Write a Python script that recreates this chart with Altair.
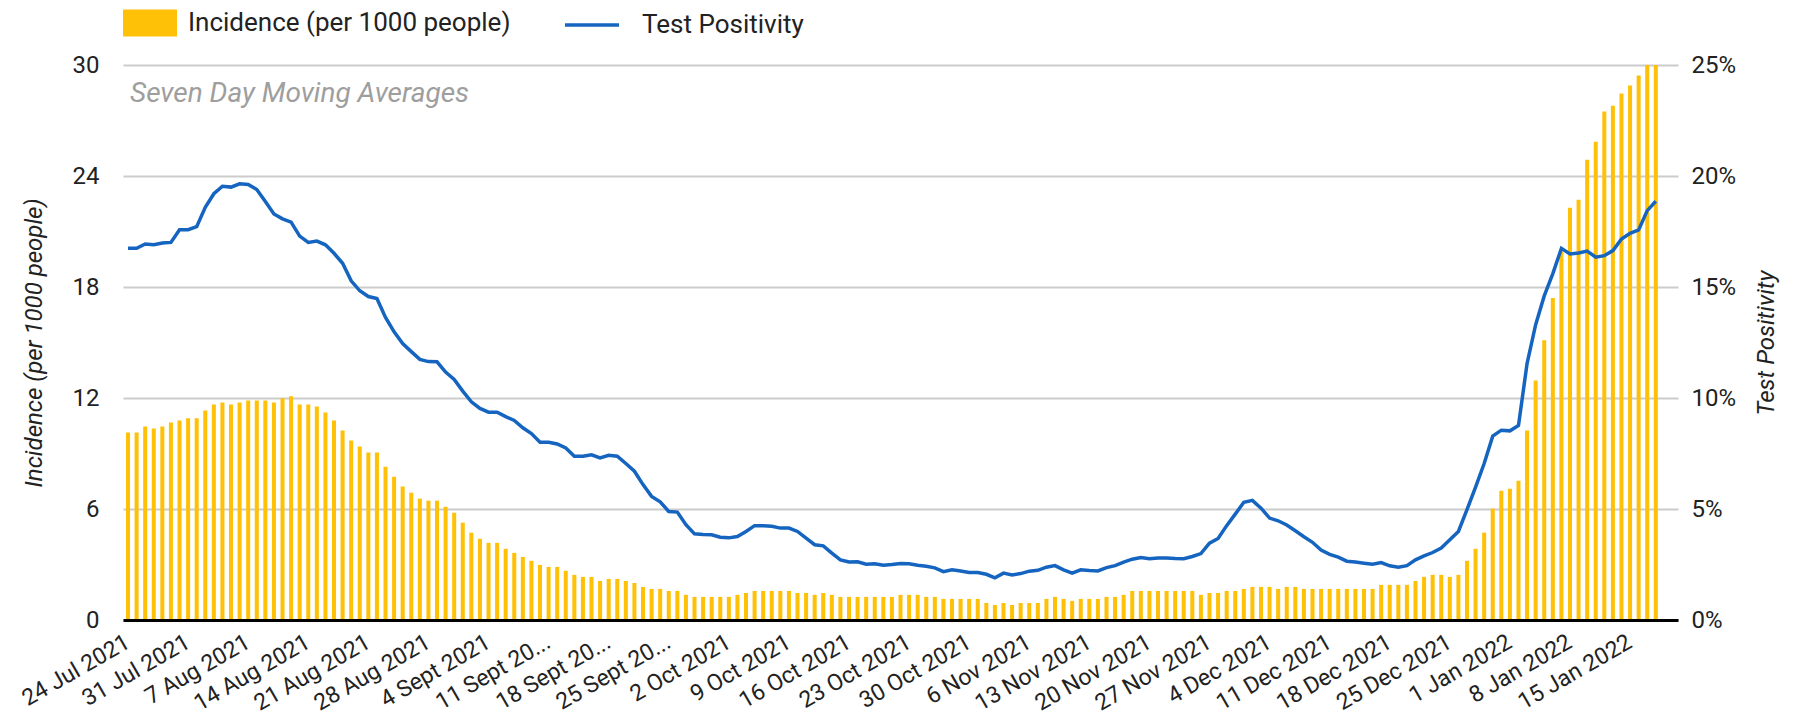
import json
import altair as alt
import pandas as pd

# ---------------- data ----------------
start_date = "24 Jul 2021"
n_days = 181  # 24 Jul 2021 .. 20 Jan 2022 (last two without data)

incidence = [
    10.13, 10.13, 10.46, 10.35, 10.46, 10.68, 10.79, 10.9, 10.9, 11.33,
    11.65, 11.76, 11.65, 11.76, 11.87, 11.87, 11.87, 11.76, 11.98, 12.09,
    11.65, 11.65, 11.54, 11.22, 10.79, 10.24, 9.7, 9.38, 9.05, 9.05,
    8.29, 7.75, 7.21, 6.88, 6.56, 6.45, 6.45, 6.12, 5.8, 5.26,
    4.72, 4.39, 4.17, 4.17, 3.85, 3.63, 3.41, 3.2, 2.98, 2.87,
    2.87, 2.66, 2.44, 2.33, 2.33, 2.11, 2.22, 2.22, 2.11, 2.0,
    1.79, 1.68, 1.68, 1.57, 1.57, 1.36, 1.25, 1.25, 1.25, 1.25,
    1.25, 1.36, 1.46, 1.57, 1.57, 1.57, 1.57, 1.57, 1.46, 1.46,
    1.36, 1.46, 1.36, 1.25, 1.25, 1.25, 1.25, 1.25, 1.25, 1.25,
    1.36, 1.36, 1.36, 1.25, 1.25, 1.14, 1.14, 1.14, 1.14, 1.14,
    0.92, 0.81, 0.92, 0.81, 0.92, 0.92, 0.92, 1.14, 1.25, 1.14,
    1.03, 1.14, 1.14, 1.14, 1.25, 1.25, 1.36, 1.57, 1.57, 1.57,
    1.57, 1.57, 1.57, 1.57, 1.57, 1.36, 1.46, 1.46, 1.57, 1.57,
    1.68, 1.79, 1.79, 1.79, 1.68, 1.79, 1.79, 1.68, 1.68, 1.68,
    1.68, 1.68, 1.68, 1.68, 1.68, 1.68, 1.9, 1.9, 1.9, 1.9,
    2.11, 2.33, 2.44, 2.44, 2.33, 2.44, 3.2, 3.85, 4.72, 6.02,
    6.99, 7.1, 7.53, 10.24, 12.95, 15.12, 17.4, 19.9, 22.28, 22.71,
    24.88, 25.85, 27.48, 27.8, 28.46, 28.89, 29.43, 30.3, 30.3,
]

positivity = [
    16.74, 16.74, 16.94, 16.9, 16.98, 17.01, 17.58, 17.58, 17.72, 18.59,
    19.2, 19.54, 19.5, 19.65, 19.62, 19.39, 18.85, 18.29, 18.07, 17.92,
    17.29, 17.01, 17.07, 16.9, 16.52, 16.07, 15.28, 14.83, 14.57, 14.48,
    13.63, 12.98, 12.45, 12.09, 11.74, 11.64, 11.63, 11.17, 10.84, 10.31,
    9.83, 9.53, 9.36, 9.36, 9.16, 8.99, 8.66, 8.4, 8.01, 8.01,
    7.93, 7.75, 7.38, 7.38, 7.44, 7.3, 7.42, 7.38, 7.05, 6.7,
    6.1, 5.57, 5.32, 4.89, 4.86, 4.29, 3.88, 3.85, 3.84, 3.73,
    3.7, 3.76, 3.99, 4.25, 4.25, 4.22, 4.14, 4.14, 3.99, 3.69,
    3.39, 3.34, 3.01, 2.71, 2.61, 2.62, 2.51, 2.53, 2.47, 2.5,
    2.54, 2.53, 2.47, 2.42, 2.35, 2.18, 2.26, 2.21, 2.14, 2.14,
    2.06, 1.9, 2.11, 2.03, 2.09, 2.2, 2.24, 2.38, 2.45, 2.26,
    2.11, 2.26, 2.23, 2.21, 2.36, 2.45, 2.61, 2.74, 2.81, 2.76,
    2.79, 2.79, 2.77, 2.76, 2.86, 2.99, 3.46, 3.67, 4.25, 4.77,
    5.3, 5.39, 5.04, 4.59, 4.47, 4.28, 4.02, 3.75, 3.5, 3.15,
    2.96, 2.83, 2.65, 2.61, 2.56, 2.51, 2.59, 2.44, 2.38, 2.45,
    2.71, 2.89, 3.04, 3.24, 3.61, 3.99, 4.97, 5.99, 7.05, 8.28,
    8.55, 8.52, 8.76, 11.55, 13.3, 14.6, 15.6, 16.74, 16.49, 16.53,
    16.62, 16.34, 16.41, 16.64, 17.16, 17.42, 17.57, 18.44, 18.86,
]

tick_labels = [
    "24 Jul 2021", "31 Jul 2021", "7 Aug 2021", "14 Aug 2021", "21 Aug 2021",
    "28 Aug 2021", "4 Sept 2021", "11 Sept 20...", "18 Sept 20...", "25 Sept 20...",
    "2 Oct 2021", "9 Oct 2021", "16 Oct 2021", "23 Oct 2021", "30 Oct 2021",
    "6 Nov 2021", "13 Nov 2021", "20 Nov 2021", "27 Nov 2021", "4 Dec 2021",
    "11 Dec 2021", "18 Dec 2021", "25 Dec 2021", "1 Jan 2022", "8 Jan 2022",
    "15 Jan 2022",
]

left_ticks = [0, 6, 12, 18, 24, 30]
right_ticks = [0, 5, 10, 15, 20, 25]

series_bar = "Incidence (per 1000 people)"
series_line = "Test Positivity"
note_text = "Seven Day Moving Averages"

# ---------------- table ----------------
idx = list(range(n_days))
df = pd.DataFrame({
    "idx": idx,
    "incidence": incidence + [None] * (n_days - len(incidence)),
    "positivity": positivity + [None] * (n_days - len(positivity)),
    "s_bar": [series_bar] * n_days,
    "s_line": [series_line] * n_days,
})

FONT = "Roboto"
TEXT = "#222222"
W, H = 1555, 555

x_scale = alt.Scale(domain=idx, paddingInner=0.53, paddingOuter=0.35)
x_axis = alt.Axis(
    values=list(range(0, 7 * len(tick_labels), 7)),
    labelExpr=json.dumps(tick_labels) + "[floor(datum.value / 7)]",
    labelAngle=330, labelAlign="right", labelBaseline="middle",
    labelPadding=20, labelFontSize=23, labelFont=FONT, labelColor=TEXT,
    labelOverlap=False, labelBound=False, labelFlush=False, labelLimit=400,
    ticks=False, grid=False, domain=True, domainColor="#000000", domainWidth=3,
    title=None, zindex=1,
)

bars = alt.Chart(df).mark_bar(clip=True).encode(
    x=alt.X("idx:O", scale=x_scale, axis=x_axis),
    y=alt.Y(
        "incidence:Q",
        scale=alt.Scale(domain=[0, 30], nice=False, zero=True),
        axis=alt.Axis(
            values=left_ticks, title=series_bar,
            titleFont=FONT, titleFontSize=24, titleFontStyle="italic",
            titleFontWeight="normal", titleColor=TEXT,
            titleX=-89, titleY=H / 2, titleAngle=270,
            titleAlign="center", titleBaseline="middle",
            labelFont=FONT, labelFontSize=24, labelColor=TEXT, labelPadding=24,
            ticks=False, domain=False, grid=True,
            gridColor="#cccccc", gridWidth=2,
        ),
    ),
    fill=alt.Fill(
        "s_bar:N",
        scale=alt.Scale(domain=[series_bar], range=["#FFC107"]),
        legend=alt.Legend(
            title=None, orient="none", legendX=0, legendY=-69,
            symbolType="M-1,-0.5H1V0.5H-1Z", symbolSize=2916,
            symbolStrokeWidth=0, symbolOpacity=1,
            labelFont=FONT, labelFontSize=26, labelColor=TEXT, labelOffset=11,
            labelLimit=600,
        ),
    ),
)

line = alt.Chart(df).mark_line(strokeWidth=3.5).encode(
    x=alt.X("idx:O", scale=x_scale, axis=x_axis),
    y=alt.Y(
        "positivity:Q",
        scale=alt.Scale(domain=[0, 25], nice=False, zero=True),
        axis=alt.Axis(
            orient="right", values=right_ticks,
            labelExpr="datum.value + '%'", title=series_line,
            titleFont=FONT, titleFontSize=24, titleFontStyle="italic",
            titleFontWeight="normal", titleColor=TEXT,
            titleX=88, titleY=H / 2, titleAngle=270,
            titleAlign="center", titleBaseline="middle",
            labelFont=FONT, labelFontSize=24, labelColor=TEXT, labelPadding=13,
            ticks=False, domain=False, grid=False,
        ),
    ),
    stroke=alt.Stroke(
        "s_line:N",
        scale=alt.Scale(domain=[series_line], range=["#1565C0"]),
        legend=alt.Legend(
            title=None, orient="none", legendX=440, legendY=-69,
            symbolType="stroke", symbolSize=2916, symbolStrokeWidth=3.5,
            labelFont=FONT, labelFontSize=26, labelColor=TEXT, labelOffset=21,
            labelLimit=600,
        ),
    ),
)

note = alt.Chart(pd.DataFrame({"t": [note_text]})).mark_text(
    align="left", baseline="middle", font=FONT, fontSize=28,
    fontStyle="italic", color="#9e9e9e",
).encode(text="t:N", x=alt.value(7), y=alt.value(29))

chart = (
    alt.layer(bars, line, note)
    .resolve_scale(y="independent", fill="independent", stroke="independent")
    .properties(
        width=W, height=H,
        autosize=alt.AutoSizeParams(type="none"),
        padding={"left": 115, "top": 57, "right": 112, "bottom": 160},
    )
    .configure(font=FONT)
    .configure_view(stroke=None)
)

chart.save("out.html", embed_options={"renderer": "svg", "actions": False})
